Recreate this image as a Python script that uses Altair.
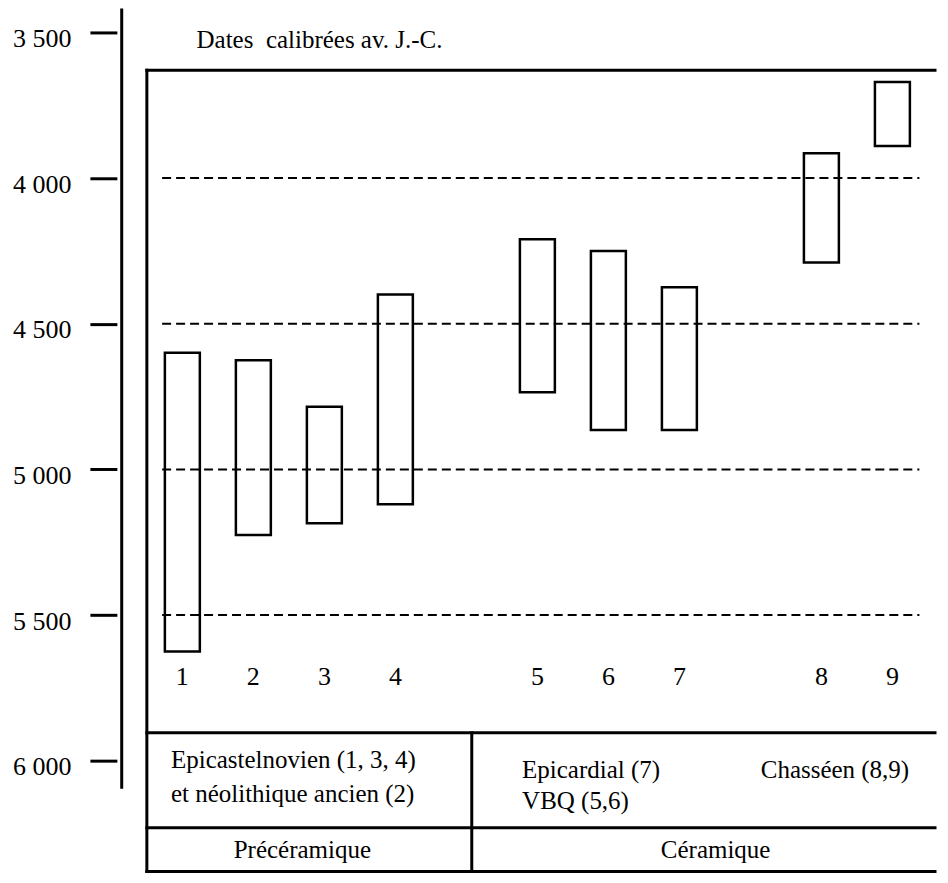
import altair as alt
import pandas as pd

# ---- data (calibrated dates, years BC) ----
labels = ["1", "2", "3", "4", "5", "6", "7", "8", "9"]
groups = [0, 0, 0, 0, 1, 1, 1, 2, 2]          # Epicastelnovien/néo. ancien, VBQ/Epicardial, Chasséen
younger = [4600, 4625, 4785, 4400, 4210, 4250, 4375, 3915, 3670]
older = [5625, 5225, 5185, 5120, 4735, 4865, 4865, 4290, 3890]
tick_years = [3500, 4000, 4500, 5000, 5500, 6000]
grid_years = [4000, 4500, 5000, 5500]

FONT = "'Liberation Serif', 'Times New Roman', Times, serif"
FS = 25

bars_df = pd.DataFrame({
    "label": labels,
    "pos": [i + 1 + g for i, g in enumerate(groups)],
    "start": younger,
    "end": older,
})
bars_df["label_y"] = 5740

xscale = alt.Scale(domain=[0.5, 11.6], nice=False, zero=False)
yscale = alt.Scale(domain=[3418, 6387], reverse=True, nice=False, zero=False)
yaxis = alt.Axis(
    values=tick_years, domain=False, grid=False, title=None,
    ticks=True, tickSize=27, tickWidth=3, tickColor="black",
    offset=25, labelPadding=19, labelFont=FONT, labelFontSize=26,
    labelColor="black", labelOffset=6, labelBaseline="middle",
    labelExpr="replace(format(datum.value, ','), ',', ' ')",
)

X = lambda f: alt.X(f, type="quantitative", scale=xscale, axis=None)
Y = lambda f: alt.Y(f, type="quantitative", scale=yscale, axis=yaxis)

bars = alt.Chart(bars_df).mark_bar(
    size=35, fill="white", stroke="black", strokeWidth=2.5
).encode(x=X("pos"), y=Y("start"), y2="end:Q")

nums = alt.Chart(bars_df).mark_text(
    font=FONT, fontSize=26, color="black", baseline="alphabetic", align="center"
).encode(x=X("pos"), y=Y("label_y"), text="label:N")

grid_df = pd.DataFrame({"year": grid_years, "x": 0.715, "x2": 11.38})
grid = alt.Chart(grid_df).mark_rule(
    strokeDash=[9, 5], strokeWidth=2, color="black"
).encode(x=X("x"), x2="x2:Q", y=Y("year"))

# frame, table lines and the free-standing axis line
frame_df = pd.DataFrame({
    "x":  [0.5, 0.5, 0.5, 0.5, 0.5, 5.076],
    "x2": [11.6, 11.6, 11.6, 11.6, 0.5, 5.076],
    "y":  [3630, 5904, 6230, 6380, 3630, 5904],
    "y2": [3630, 5904, 6230, 6380, 6380, 6380],
})
frame = alt.Chart(frame_df).mark_rule(
    strokeWidth=3, color="black", strokeCap="square"
).encode(x=X("x"), x2="x2:Q", y=Y("y"), y2="y2:Q")

axis_df = pd.DataFrame({"x": [0.146], "y": [3418], "y2": [6096]})
axis_line = alt.Chart(axis_df).mark_rule(strokeWidth=3, color="black").encode(
    x=X("x"), y=Y("y"), y2="y2:Q"
)

left_notes = pd.DataFrame({
    "text": ["Dates\u00a0 calibrées av. J.-C.", "Epicastelnovien (1, 3, 4)",
             "et néolithique ancien (2)", "Epicardial (7)", "VBQ (5,6)", "Chasséen (8,9)"],
    "x": [1.2, 0.84, 0.84, 5.785, 5.785, 9.146],
    "y": [3552, 6024, 6140, 6059, 6165, 6059],
})
center_notes = pd.DataFrame({
    "text": ["Précéramique", "Céramique"],
    "x": [2.69, 8.51],
    "y": [6333, 6333],
})

ltext = alt.Chart(left_notes).mark_text(
    font=FONT, fontSize=FS, color="black", align="left", baseline="alphabetic"
).encode(x=X("x"), y=Y("y"), text="text:N")
ctext = alt.Chart(center_notes).mark_text(
    font=FONT, fontSize=FS, color="black", align="center", baseline="alphabetic"
).encode(x=X("x"), y=Y("y"), text="text:N")

chart = alt.layer(bars, grid, nums, frame, axis_line, ltext, ctext).properties(
    width=799, height=866,
    autosize=alt.AutoSizeParams(type="none"),
    padding={"left": 134, "top": 0, "right": 0, "bottom": 0},
    background="white",
).configure_view(stroke=None)

chart.save("out.html", embed_options={"renderer": "svg", "actions": False})
